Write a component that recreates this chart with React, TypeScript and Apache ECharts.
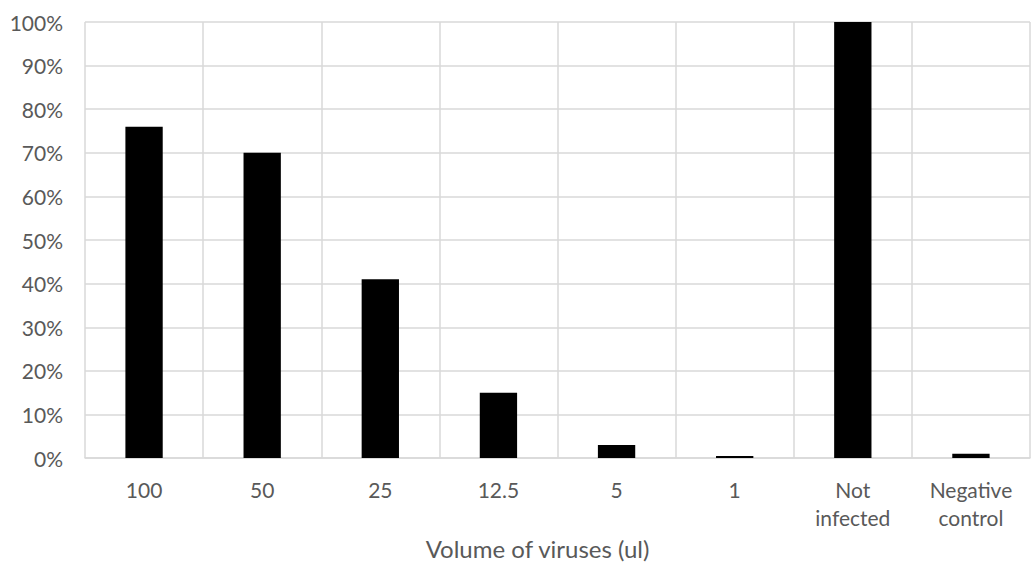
import React, { useEffect, useRef } from "react";
import * as echarts from "echarts";

// Category labels along the x axis
const categories = ["100", "50", "25", "12.5", "5", "1", "Not\ninfected", "Negative\ncontrol"];
// Share of infected cells per virus volume (fraction of 1)
const values = [0.76, 0.7, 0.41, 0.15, 0.03, 0.005, 1.0, 0.01];
// Y axis tick settings
const yMin = 0;
const yMax = 1;
const yStep = 0.1;

const FONT = "Lato";
const TEXT = "#595959";
const GRID = "#d9d9d9";

export default function App() {
  const ref = useRef<HTMLDivElement>(null);

  useEffect(() => {
    if (!ref.current) return;
    const chart = echarts.init(ref.current, undefined, { renderer: "svg" });
    chart.setOption({
      animation: false,
      backgroundColor: "#ffffff",
      textStyle: { fontFamily: FONT },
      grid: { left: 85, right: 1, top: 22, bottom: 100, containLabel: false },
      xAxis: {
        type: "category",
        data: categories,
        boundaryGap: true,
        axisLine: { show: true, lineStyle: { color: GRID, width: 1.5 } },
        axisTick: { show: false },
        splitLine: { show: true, lineStyle: { color: GRID, width: 1.5 } },
        axisLabel: {
          color: TEXT,
          fontFamily: FONT,
          fontSize: 21,
          lineHeight: 28,
          margin: 17,
          interval: 0,
        },
        name: "Volume of viruses (ul)",
        nameLocation: "middle",
        nameGap: 75,
        nameTextStyle: { color: TEXT, fontFamily: FONT, fontSize: 24, padding: [0, 40, 0, 0] },
      },
      yAxis: {
        type: "value",
        min: yMin,
        max: yMax,
        interval: yStep,
        axisLine: { show: false },
        axisTick: { show: false },
        splitLine: { show: true, lineStyle: { color: GRID, width: 1.5 } },
        axisLabel: {
          color: TEXT,
          fontFamily: FONT,
          fontSize: 21,
          margin: 22,
          formatter: (v: number) => `${Math.round(v * 100)}%`,
        },
      },
      series: [
        {
          type: "bar",
          data: values,
          barWidth: "31.6%",
          itemStyle: { color: "#000000" },
        },
      ],
    });
    return () => chart.dispose();
  }, []);

  return <div ref={ref} style={{ width: 1031, height: 565, position: "absolute", left: 0, top: 0 }} />;
}
